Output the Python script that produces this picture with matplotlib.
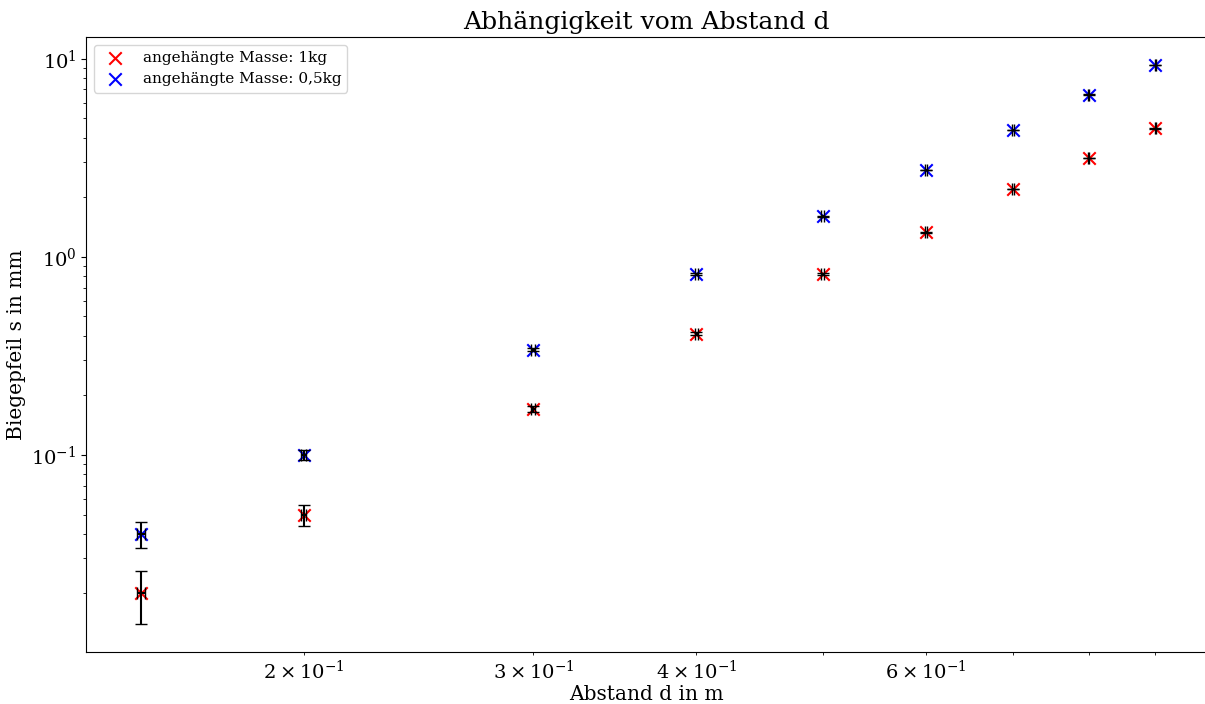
import matplotlib
matplotlib.use("Agg")
import matplotlib.pyplot as plt
import numpy as np

plt.rcParams['font.family'] = ['DejaVu Serif']
plt.rcParams['mathtext.fontset'] = 'dejavuserif'

# Abstand d in m
abstand = [0.15, 0.2, 0.3, 0.4, 0.5, 0.6, 0.7, 0.8, 0.9]
# Biegepfeil s in mm
s_1kg = [0.02, 0.05, 0.17, 0.41, 0.82, 1.33, 2.2, 3.15, 4.45]
s_05kg = [0.04, 0.10, 0.34, 0.82, 1.60, 2.75, 4.35, 6.6, 9.3]
# Messunsicherheiten
d_err = 0.001
s_err = 0.006

fig = plt.figure(figsize=(12.05, 7.04), dpi=100)
ax = fig.add_axes([86 / 1205, 1 - 652 / 704, 1121 / 1205, 615 / 704])

ax.scatter(abstand, s_1kg, marker='x', color='red', s=80, label='angehängte Masse: 1kg')
ax.scatter(abstand, s_05kg, marker='x', color='blue', s=80, label='angehängte Masse: 0,5kg')
ax.errorbar(abstand, s_1kg, xerr=d_err, yerr=s_err, fmt='none', ecolor='black', capsize=4)
ax.errorbar(abstand, s_05kg, xerr=d_err, yerr=s_err, fmt='none', ecolor='black', capsize=4)

ax.set_xscale('log')
ax.set_yscale('log')
ax.tick_params(axis='both', which='both', labelsize=14)
ax.set_title('Abhängigkeit vom Abstand d', fontsize=18)
ax.set_xlabel('Abstand d in m', fontsize=14.5, labelpad=2)
ax.set_ylabel('Biegepfeil s in mm', fontsize=14.5)
ax.legend(loc='upper left', fontsize=11)

fig.savefig('out.png', dpi=100)
